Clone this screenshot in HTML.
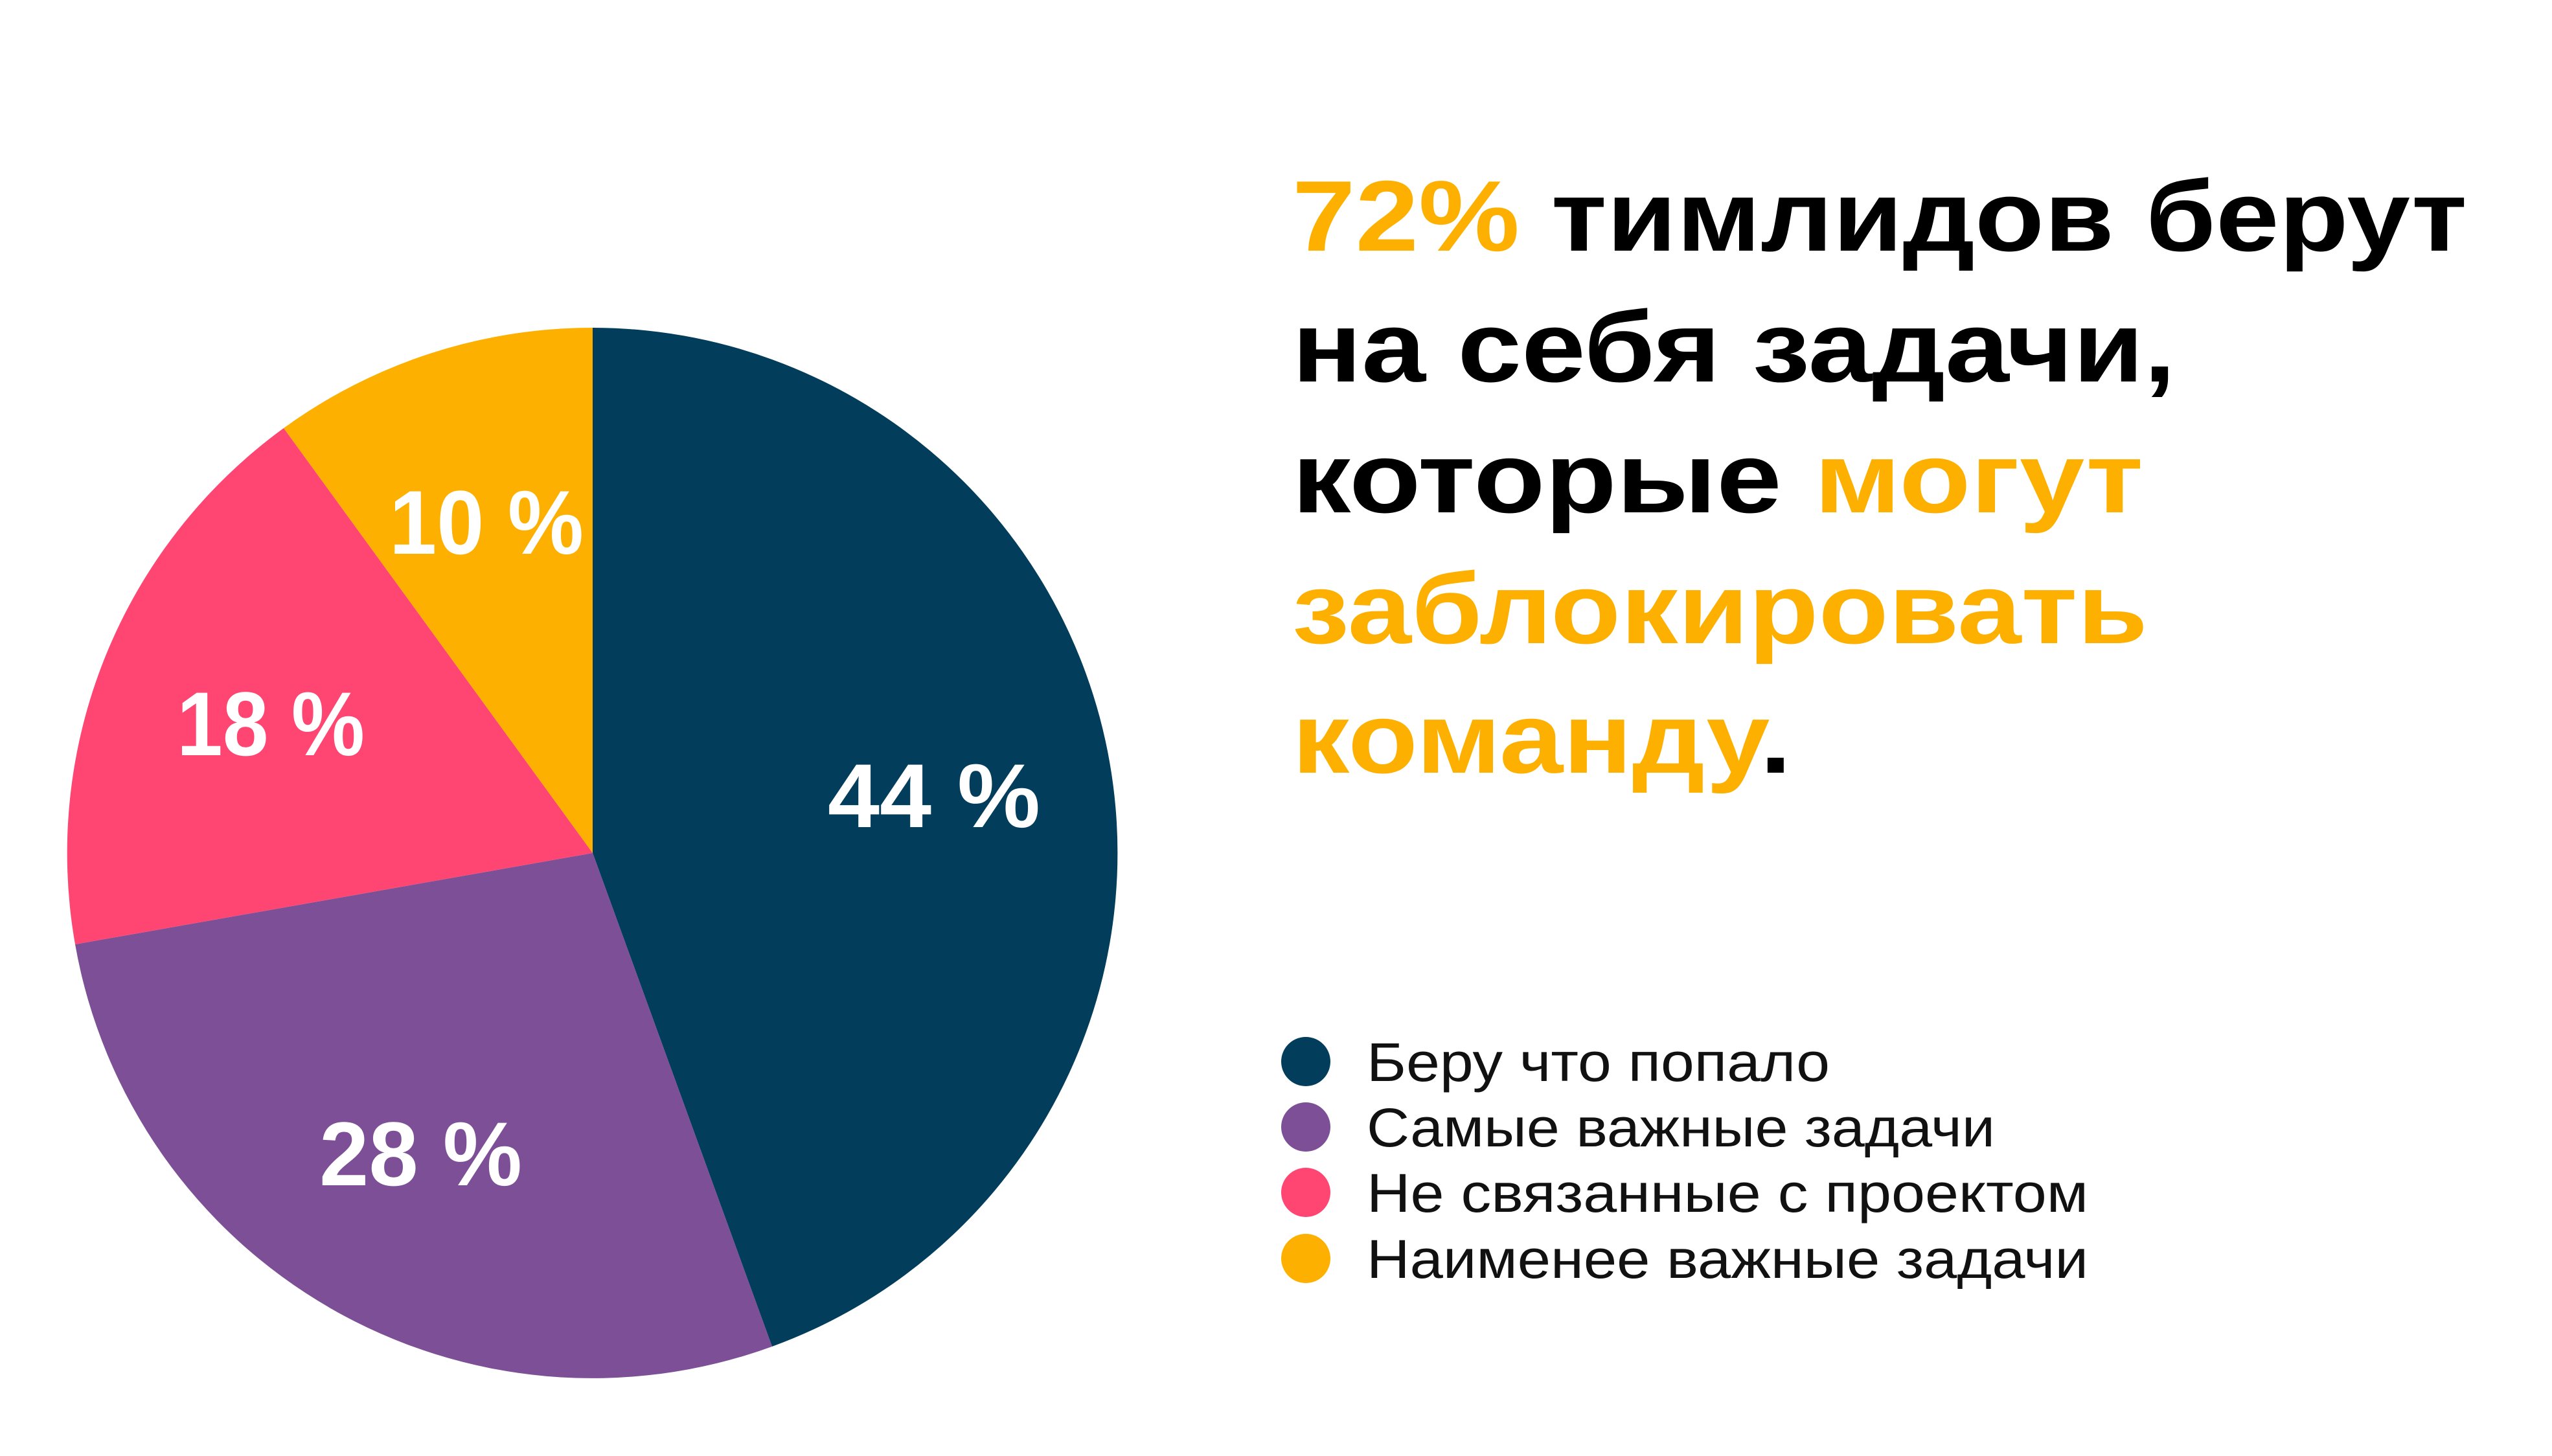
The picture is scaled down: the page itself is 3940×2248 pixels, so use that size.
<!DOCTYPE html>
<html><head><meta charset="utf-8"><style>html,body{margin:0;padding:0;background:#fff}svg{display:block}</style></head>
<body>
<svg width="3940" height="2248" viewBox="0 0 3940 2248" xmlns="http://www.w3.org/2000/svg" font-family="'Liberation Sans', sans-serif">
<rect width="3940" height="2248" fill="#fff"/>
<g>
<path d="M915,1317 L915,506 A811,811 0 0 1 1192,2079 Z" fill="#033d5c"/>
<path d="M915,1317 L1192,2079 A811,811 0 0 1 116,1458 Z" fill="#7d4f97"/>
<path d="M915,1317 L116,1458 A811,811 0 0 1 438,661 Z" fill="#ff4571"/>
<path d="M915,1317 L438,661 A811,811 0 0 1 915,506 Z" fill="#fdb000"/>
</g>
<g fill="#fff" font-weight="bold" font-size="140">
<text x="1278" y="1277" textLength="328" lengthAdjust="spacingAndGlyphs">44 %</text>
<text x="601" y="855" textLength="300" lengthAdjust="spacingAndGlyphs">10 %</text>
<text x="273" y="1166" textLength="290" lengthAdjust="spacingAndGlyphs">18 %</text>
<text x="493" y="1830" textLength="313" lengthAdjust="spacingAndGlyphs">28 %</text>
</g>
<g font-weight="bold" font-size="155" fill="#000">
<text x="1995" y="387" textLength="1814" lengthAdjust="spacingAndGlyphs"><tspan fill="#fdb000">72%</tspan> тимлидов берут</text>
<text x="1995" y="589" textLength="1364" lengthAdjust="spacingAndGlyphs">на себя задачи,</text>
<text x="1995" y="791" textLength="1314" lengthAdjust="spacingAndGlyphs">которые <tspan fill="#fdb000">могут</tspan></text>
<text x="1995" y="993" textLength="1321" lengthAdjust="spacingAndGlyphs" fill="#fdb000">заблокировать</text>
<text x="1995" y="1193" textLength="771" lengthAdjust="spacingAndGlyphs"><tspan fill="#fdb000">команду</tspan>.</text>
</g>
<g font-size="84" fill="#111">
<circle cx="2016" cy="1639" r="38" fill="#033d5c"/>
<circle cx="2016" cy="1740" r="38" fill="#7d4f97"/>
<circle cx="2016" cy="1841" r="38" fill="#ff4571"/>
<circle cx="2016" cy="1943" r="38" fill="#fdb000"/>
<text x="2110" y="1669" textLength="715" lengthAdjust="spacingAndGlyphs">Беру что попало</text>
<text x="2110" y="1770" textLength="970" lengthAdjust="spacingAndGlyphs">Самые важные задачи</text>
<text x="2110" y="1871" textLength="1114" lengthAdjust="spacingAndGlyphs">Не связанные с проектом</text>
<text x="2110" y="1973" textLength="1114" lengthAdjust="spacingAndGlyphs">Наименее важные задачи</text>
</g>
</svg>
</body></html>
